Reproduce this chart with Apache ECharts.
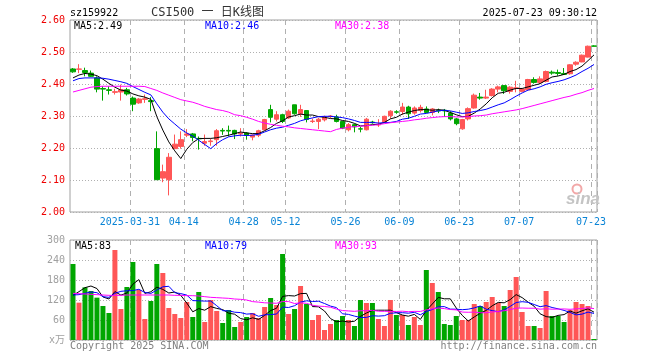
<!DOCTYPE html>
<html>
<head>
<meta charset="utf-8">
<script src="https://cdn.jsdelivr.net/npm/echarts@6/dist/echarts.min.js"></script>
<style>
html,body{margin:0;padding:0;background:#fff;}
#c{width:660px;height:360px;}
</style>
</head>
<body>
<div id="c"></div>
<script>
const dates = ['2025-03-17','2025-03-18','2025-03-19','2025-03-20','2025-03-21','2025-03-24','2025-03-25','2025-03-26','2025-03-27','2025-03-28',
'2025-03-31','2025-04-01','2025-04-02','2025-04-03','2025-04-07','2025-04-08','2025-04-09','2025-04-10','2025-04-11','2025-04-14',
'2025-04-15','2025-04-16','2025-04-17','2025-04-18','2025-04-21','2025-04-22','2025-04-23','2025-04-24','2025-04-25','2025-04-28',
'2025-04-29','2025-04-30','2025-05-06','2025-05-07','2025-05-08','2025-05-09','2025-05-12','2025-05-13','2025-05-14','2025-05-15',
'2025-05-16','2025-05-19','2025-05-20','2025-05-21','2025-05-22','2025-05-23','2025-05-26','2025-05-27','2025-05-28','2025-05-29',
'2025-05-30','2025-06-03','2025-06-04','2025-06-05','2025-06-06','2025-06-09','2025-06-10','2025-06-11','2025-06-12','2025-06-13',
'2025-06-16','2025-06-17','2025-06-18','2025-06-19','2025-06-20','2025-06-23','2025-06-24','2025-06-25','2025-06-26','2025-06-27',
'2025-06-30','2025-07-01','2025-07-02','2025-07-03','2025-07-04','2025-07-07','2025-07-08','2025-07-09','2025-07-10','2025-07-11',
'2025-07-14','2025-07-15','2025-07-16','2025-07-17','2025-07-18','2025-07-21','2025-07-22','2025-07-23'];

const opens = [2.447,2.446,2.442,2.434,2.419,2.386,2.382,2.374,2.375,2.382,
2.356,2.341,2.352,2.348,2.198,2.106,2.101,2.198,2.205,2.240,
2.244,2.230,2.215,2.220,2.226,2.255,2.255,2.255,2.244,2.247,
2.234,2.240,2.257,2.320,2.290,2.304,2.294,2.335,2.307,2.317,
2.283,2.283,2.288,2.298,2.297,2.283,2.257,2.273,2.260,2.257,
2.281,2.272,2.281,2.301,2.313,2.314,2.328,2.309,2.317,2.322,
2.311,2.317,2.318,2.309,2.291,2.260,2.291,2.325,2.359,2.356,
2.364,2.384,2.395,2.377,2.386,2.377,2.382,2.414,2.405,2.408,
2.437,2.436,2.433,2.432,2.462,2.469,2.484,2.519];
const closes = [2.438,2.447,2.436,2.424,2.384,2.384,2.380,2.376,2.382,2.369,
2.337,2.353,2.354,2.345,2.101,2.126,2.171,2.212,2.226,2.244,
2.233,2.229,2.220,2.222,2.254,2.253,2.253,2.244,2.246,2.240,
2.240,2.254,2.289,2.296,2.304,2.283,2.315,2.307,2.320,2.289,
2.284,2.290,2.297,2.300,2.283,2.262,2.273,2.266,2.259,2.290,
2.279,2.274,2.299,2.315,2.312,2.328,2.307,2.325,2.327,2.311,
2.322,2.316,2.316,2.291,2.276,2.289,2.323,2.365,2.356,2.359,
2.384,2.391,2.379,2.390,2.388,2.384,2.414,2.405,2.416,2.439,
2.434,2.433,2.430,2.460,2.468,2.490,2.518,2.518];
const lows = [2.435,2.434,2.424,2.422,2.374,2.348,2.367,2.367,2.348,2.364,
2.315,2.338,2.341,2.315,2.101,2.093,2.052,2.198,2.198,2.234,
2.221,2.195,2.207,2.207,2.207,2.241,2.236,2.228,2.236,2.226,
2.224,2.234,2.255,2.280,2.283,2.278,2.291,2.304,2.297,2.280,
2.278,2.259,2.283,2.293,2.280,2.259,2.252,2.249,2.249,2.255,
2.276,2.266,2.278,2.291,2.307,2.304,2.291,2.304,2.311,2.309,
2.302,2.309,2.297,2.286,2.271,2.257,2.286,2.323,2.351,2.353,
2.361,2.374,2.369,2.370,2.374,2.374,2.380,2.401,2.400,2.405,
2.429,2.426,2.429,2.429,2.457,2.468,2.483,2.517];
const highs = [2.450,2.462,2.451,2.442,2.424,2.393,2.393,2.385,2.398,2.388,
2.361,2.356,2.367,2.359,2.252,2.148,2.184,2.242,2.252,2.259,
2.247,2.236,2.242,2.229,2.259,2.262,2.270,2.257,2.262,2.250,
2.242,2.257,2.291,2.335,2.315,2.307,2.320,2.335,2.335,2.317,
2.292,2.294,2.301,2.303,2.304,2.283,2.278,2.276,2.266,2.294,
2.285,2.290,2.301,2.318,2.318,2.341,2.332,2.330,2.335,2.330,
2.325,2.323,2.322,2.315,2.294,2.291,2.327,2.370,2.372,2.382,
2.387,2.395,2.395,2.393,2.410,2.387,2.416,2.421,2.424,2.442,
2.442,2.445,2.450,2.462,2.471,2.492,2.520,2.521];

const ma5 = [2.419,2.428,2.433,2.431,2.426,2.415,2.402,2.390,2.381,2.378,
2.369,2.363,2.359,2.352,2.298,2.256,2.219,2.191,2.167,2.196,
2.217,2.229,2.230,2.230,2.232,2.236,2.240,2.245,2.250,2.247,
2.245,2.245,2.254,2.264,2.277,2.285,2.297,2.301,2.306,2.303,
2.303,2.298,2.296,2.292,2.291,2.286,2.283,2.277,2.269,2.270,
2.273,2.274,2.280,2.291,2.296,2.306,2.312,2.317,2.320,2.320,
2.318,2.320,2.318,2.311,2.304,2.298,2.299,2.309,2.322,2.338,
2.357,2.371,2.374,2.381,2.386,2.386,2.391,2.396,2.401,2.412,
2.422,2.425,2.430,2.439,2.445,2.456,2.473,2.491];
const ma10 = [2.410,2.417,2.419,2.419,2.419,2.418,2.415,2.411,2.407,2.402,
2.392,2.383,2.374,2.366,2.338,2.312,2.291,2.275,2.259,2.247,
2.237,2.224,2.211,2.198,2.214,2.226,2.235,2.238,2.240,2.239,
2.240,2.243,2.250,2.257,2.262,2.265,2.271,2.277,2.285,2.290,
2.294,2.298,2.299,2.299,2.297,2.295,2.291,2.286,2.280,2.280,
2.280,2.278,2.279,2.280,2.283,2.290,2.293,2.299,2.306,2.308,
2.312,2.316,2.318,2.316,2.312,2.308,2.310,2.314,2.317,2.321,
2.328,2.335,2.341,2.351,2.362,2.372,2.381,2.385,2.391,2.399,
2.404,2.408,2.413,2.420,2.428,2.439,2.449,2.461];
const ma30 = [2.375,2.380,2.385,2.390,2.392,2.393,2.393,2.393,2.393,2.393,
2.393,2.393,2.392,2.386,2.380,2.372,2.365,2.358,2.351,2.347,
2.343,2.337,2.330,2.325,2.320,2.317,2.312,2.304,2.301,2.296,
2.290,2.283,2.278,2.274,2.271,2.268,2.266,2.263,2.261,2.259,
2.257,2.255,2.253,2.251,2.258,2.262,2.265,2.267,2.268,2.270,
2.271,2.273,2.276,2.279,2.281,2.283,2.285,2.288,2.290,2.293,
2.295,2.297,2.298,2.298,2.297,2.297,2.298,2.300,2.301,2.303,
2.307,2.310,2.313,2.316,2.319,2.323,2.328,2.333,2.338,2.343,
2.348,2.353,2.358,2.362,2.368,2.373,2.380,2.386];

const volumes = [228,112,158,147,127,102,81,270,93,159,
234,150,63,117,228,201,96,78,66,114,
69,144,54,120,87,51,90,39,54,69,
81,66,99,126,105,258,78,93,162,108,
60,75,30,48,60,72,60,42,120,111,
111,63,42,120,75,75,45,69,45,210,
171,144,48,45,72,60,60,108,102,114,
129,111,102,150,189,84,42,42,36,147,
72,72,54,90,114,108,102,3];
const vma5 = [134,145,157,162,154.4,129.2,123,145.4,134.6,141,
167.4,181.2,139.8,144.6,158.4,151.8,141,144,133.8,111,
84.6,94.2,89.4,100.2,94.8,91.2,80.4,77.4,64.2,60.6,
66.6,61.8,73.8,88.2,95.4,130.8,133.2,132,139.2,139.8,
100.2,99.6,87,64.2,54.6,57,54,56.4,70.8,81,
88.8,89.4,89.4,89.4,82.2,75,71.4,76.8,61.8,88.8,
108,127.8,123.6,123.6,96,73.8,57,69,80.4,88.8,
102.6,112.8,111.6,121.2,136.2,127.2,113.4,101.4,78.6,70.2,
67.8,73.8,76.2,87,80.4,87.6,93.6,83.4];
const vma10 = [135,136,140,144,142,130,128,140,146,147.7,
148.3,152.1,142.6,139.6,149.7,159.6,161.1,141.9,139.2,134.7,
118.2,117.6,116.7,117,102.9,87.9,87.3,83.4,82.2,77.7,
78.9,71.1,75.6,76.2,78,98.7,97.5,102.9,113.7,117.6,
115.5,116.4,109.5,101.7,97.2,78.6,76.8,71.7,67.5,67.8,
72.9,71.7,72.9,80.1,81.6,81.9,80.4,83.1,75.6,85.5,
91.5,99.6,100.2,92.7,92.4,90.9,92.4,96.3,102,92.4,
88.2,84.9,90.3,100.8,112.5,114.9,113.1,106.5,99.9,103.2,
97.5,93.6,88.8,82.8,75.3,77.7,83.7,79.8];
const vma30 = [140,139,138,137,136,135,134,134,134,135,
135,135,135,135,135,135,135,134,134,133,
133,132,130,128,127,126,125,123,122,120,
115.1,113.6,111.6,110.9,110.2,115.4,115.3,109.4,111.7,110,
104.2,101.7,100.6,98.3,92.7,88.4,87.2,86,87.8,87.7,
89.1,86.4,86,86,85.6,86.4,84.9,85.9,85.6,90.3,
93.3,95.9,94.2,91.5,90.4,83.8,83.2,83.7,81.7,81.9,
84.2,85.4,87.8,91.2,95.5,95.9,95.3,95.3,92.5,93.7,
92.4,92.7,93.1,92.1,93.4,94.5,96.4,94.2];

const tickDates = ['2025-03-31','2025-04-14','2025-04-28','2025-05-12','2025-05-26','2025-06-09','2025-06-23','2025-07-07','2025-07-23'];
const tickLabels = ['2025-03-31','04-14','04-28','05-12','05-26','06-09','06-23','07-07','07-23'];
const priceTicks = [2.00, 2.10, 2.20, 2.30, 2.40, 2.50, 2.60];
const volTicks = [0, 60, 120, 180, 240, 300];

const UP = '#ff5656', DOWN = '#00a600';
const MONO = '"DejaVu Sans Mono", monospace';

const tickIdx = new Set(tickDates.map(d => dates.indexOf(d)));
const labelOf = {};
tickDates.forEach((d, k) => { labelOf[d] = tickLabels[k]; });
const showTick = (i) => tickIdx.has(i);

const ohlc = dates.map((d, i) => [opens[i], closes[i], lows[i], highs[i]]);
const volData = volumes.map((v, i) => ({
  value: v,
  itemStyle: { color: closes[i] >= opens[i] ? UP : DOWN }
}));

const vSplit = { show: true, interval: (i) => showTick(i), lineStyle: { color: '#b0b0b0', type: [5, 4], width: 1 } };
const hSplit = { show: true, lineStyle: { color: '#b0b0b0', type: [1, 2], width: 1 } };

function txt(text, x, y, color, align, font) {
  return {
    type: 'text', silent: true, z: 100,
    style: { text: text, x: x, y: y, fill: color, font: font || ('10px ' + MONO),
      textAlign: align || 'left', align: align || 'left', textVerticalAlign: 'middle', verticalAlign: 'middle' }
  };
}

const chart = echarts.init(document.getElementById('c'), null, { renderer: 'canvas' });
chart.setOption({
  animation: false,
  backgroundColor: '#ffffff',
  grid: [
    { left: 70, top: 20, width: 527, height: 192, show: true, borderColor: '#a0a0a0', borderWidth: 1, backgroundColor: 'transparent' },
    { left: 70, top: 240, width: 527, height: 100, show: true, borderColor: '#a0a0a0', borderWidth: 1, backgroundColor: 'transparent' }
  ],
  xAxis: [
    { type: 'category', gridIndex: 0, data: dates, boundaryGap: true,
      axisLine: { show: false }, axisTick: { show: false },
      axisLabel: { interval: (i) => showTick(i), formatter: (v) => labelOf[v] || '', color: '#0a84d6',
        fontFamily: MONO, fontSize: 10, margin: 5, padding: [0, 6, 0, 0] },
      splitLine: vSplit },
    { type: 'category', gridIndex: 1, data: dates, boundaryGap: true,
      axisLine: { show: false }, axisTick: { show: false }, axisLabel: { show: false },
      splitLine: vSplit }
  ],
  yAxis: [
    { type: 'value', gridIndex: 0, min: priceTicks[0], max: priceTicks[priceTicks.length - 1], interval: 0.1,
      axisLine: { show: false }, axisTick: { show: false },
      axisLabel: { formatter: (v) => v.toFixed(2), color: '#ee0000', fontFamily: MONO, fontSize: 10, margin: 5 },
      splitLine: hSplit },
    { type: 'value', gridIndex: 1, min: volTicks[0], max: volTicks[volTicks.length - 1], interval: 60,
      axisLine: { show: false }, axisTick: { show: false },
      axisLabel: { formatter: (v) => v === 0 ? 'x万' : String(v), color: '#a0a0a0', fontFamily: MONO + ', "Noto Sans CJK SC"', fontSize: 10, margin: 5 },
      splitLine: hSplit }
  ],
  series: [
    { type: 'candlestick', name: 'K', xAxisIndex: 0, yAxisIndex: 0, data: ohlc, barWidth: 5,
      itemStyle: { color: UP, color0: DOWN, borderColor: UP, borderColor0: DOWN, borderWidth: 1 } },
    { type: 'line', xAxisIndex: 0, yAxisIndex: 0, data: ma5, symbol: 'none', lineStyle: { color: '#000000', width: 1 } },
    { type: 'line', xAxisIndex: 0, yAxisIndex: 0, data: ma10, symbol: 'none', lineStyle: { color: '#0000ff', width: 1 } },
    { type: 'line', xAxisIndex: 0, yAxisIndex: 0, data: ma30, symbol: 'none', lineStyle: { color: '#ff00ff', width: 1 } },
    { type: 'bar', xAxisIndex: 1, yAxisIndex: 1, data: volData, barWidth: 5 },
    { type: 'line', xAxisIndex: 1, yAxisIndex: 1, data: vma5, symbol: 'none', lineStyle: { color: '#000000', width: 1 } },
    { type: 'line', xAxisIndex: 1, yAxisIndex: 1, data: vma10, symbol: 'none', lineStyle: { color: '#0000ff', width: 1 } },
    { type: 'line', xAxisIndex: 1, yAxisIndex: 1, data: vma30, symbol: 'none', lineStyle: { color: '#ff00ff', width: 1 } }
  ],
  graphic: [
    txt('sz159922', 70, 13, '#000'),
    txt('CSI500 一 日K线图', 151, 13, '#333', 'left', '12px "DejaVu Sans Mono", "Noto Sans CJK SC"'),
    txt('2025-07-23 09:30:12', 597, 13, '#000', 'right'),
    txt('MA5:2.49', 74, 26, '#000'),
    txt('MA10:2.46', 205, 26, '#0000ff'),
    txt('MA30:2.38', 335, 26, '#ff00ff'),
    txt('MA5:83', 75, 246.5, '#000'),
    txt('MA10:79', 205, 246.5, '#0000ff'),
    txt('MA30:93', 335, 246.5, '#ff00ff'),
    txt('Copyright 2025 SINA.COM', 70, 346.5, '#808080'),
    txt('http://finance.sina.com.cn', 597, 346.5, '#808080', 'right'),
    { type: 'circle', silent: true, z: 1, shape: { cx: 577, cy: 189, r: 4.5 }, style: { fill: 'none', stroke: '#f2a8a8', lineWidth: 2 } },
    txt('sina', 566, 199, '#c4c4c4', 'left', 'italic bold 17px "Liberation Sans", sans-serif')
  ]
});
</script>
</body>
</html>
